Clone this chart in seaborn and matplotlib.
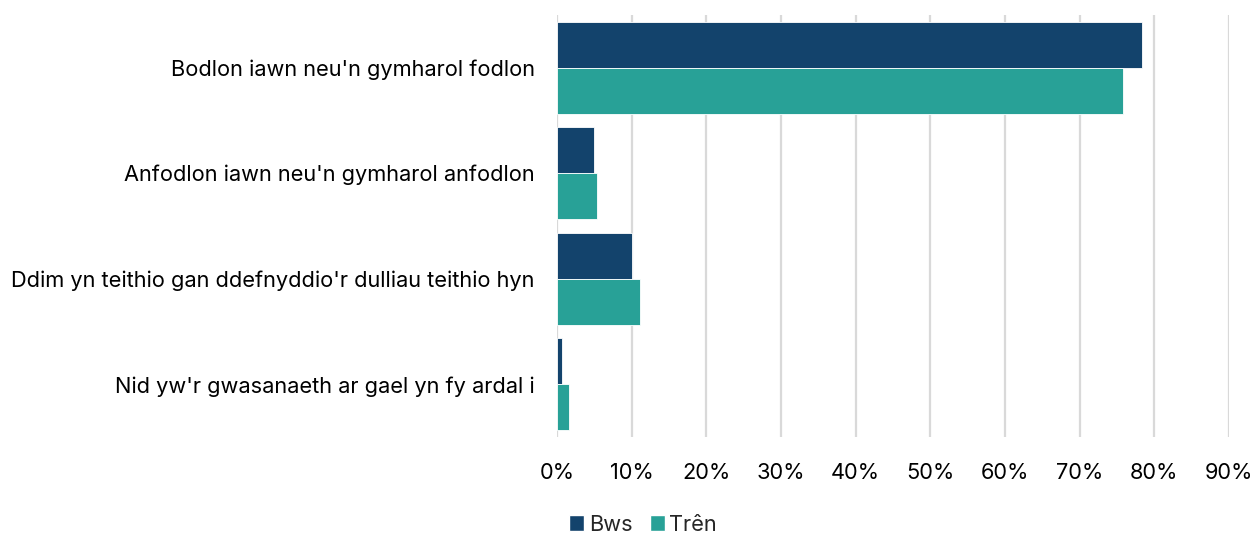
import matplotlib
matplotlib.use("Agg")
import matplotlib.pyplot as plt
import seaborn as sns
import pandas as pd
from matplotlib.ticker import FuncFormatter
from matplotlib.patches import Patch

categories = [
    "Bodlon iawn neu'n gymharol fodlon",
    "Anfodlon iawn neu'n gymharol anfodlon",
    "Ddim yn teithio gan ddefnyddio'r dulliau teithio hyn",
    "Nid yw'r gwasanaeth ar gael yn fy ardal i",
]
bws = [78.3, 5.0, 10.1, 0.7]
tren = [75.8, 5.4, 11.1, 1.6]
series = ["Bws", "Trên"]
colors = ["#13436C", "#28A197"]

df = pd.DataFrame({
    "cat": categories * 2,
    "val": bws + tren,
    "mode": [series[0]] * 4 + [series[1]] * 4,
})

sns.set_theme(style="white")
plt.rcParams["font.family"] = ["Inter", "DejaVu Sans"]

fig = plt.figure(figsize=(12.56, 5.33), dpi=100)
ax = fig.add_axes([0.4435, 0.18, 0.535, 0.792])

sns.barplot(data=df, y="cat", x="val", hue="mode", orient="h",
            palette=colors, saturation=1, width=0.87, ax=ax, legend=False,
            edgecolor="white", linewidth=0.6)

ax.set_xlim(0, 90)
ax.set_xticks(range(0, 91, 10))
ax.xaxis.set_major_formatter(FuncFormatter(lambda v, p: f"{int(v)}%"))
ax.grid(axis="x", color="#d9d9d9", linewidth=1.6)
ax.set_axisbelow(True)
for s in ax.spines.values():
    s.set_visible(False)
ax.set_xlabel("")
ax.set_ylabel("")
ax.tick_params(axis="both", length=0, labelsize=15.7, colors="black")
ax.tick_params(axis="x", pad=19)
ax.tick_params(axis="y", pad=16)

handles = [Patch(facecolor=c, label=s) for c, s in zip(colors, series)]
fig.legend(handles=handles, loc="lower center", bbox_to_anchor=(0.512, -0.04),
           ncol=2, frameon=False, fontsize=15.7, handlelength=0.7, handleheight=0.7,
           handletextpad=0.2, columnspacing=0.8)

fig.savefig("out.png", dpi=100)
